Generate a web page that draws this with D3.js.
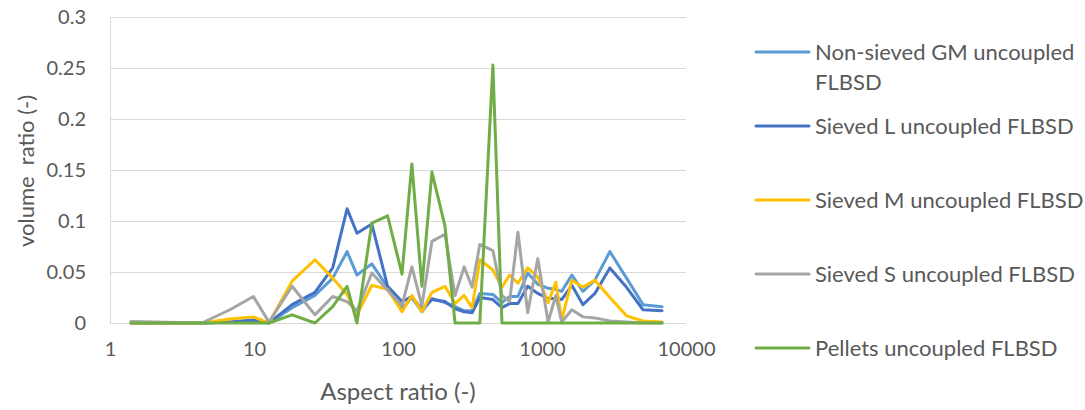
<!DOCTYPE html>
<html><head><meta charset="utf-8">
<script src="https://cdn.jsdelivr.net/npm/d3@7"></script>
<style>body{margin:0;background:#fff}svg{display:block}text{font-family:Lato,"Open Sans",sans-serif;fill:#595959}</style>
</head><body><svg id="c" width="1085" height="410"></svg>
<script>
const aspectRatio = [1.4, 4.35, 6.8, 9.9, 12.7, 18.4, 26.5, 35.2, 44.3, 51.9, 65.8, 84.7, 106.6, 124.8, 146.6, 172, 212, 249, 288, 327, 370, 456, 527, 596, 680, 796, 935, 1102, 1247, 1370, 1612, 1925, 2330, 2960, 3865, 5030, 6820];
const nonSievedGM = [0,0,0.001,0.002,0,0.015,0.027,0.044,0.07,0.047,0.058,0.035,0.014,0.025,0.011,0.024,0.02,0.016,0.012,0.012,0.029,0.028,0.02,0.026,0.026,0.049,0.038,0.034,0.033,0.031,0.047,0.031,0.042,0.07,0.044,0.018,0.016];
const sievedL = [0,0,0.001,0.003,0,0.018,0.03,0.054,0.112,0.088,0.097,0.036,0.021,0.026,0.013,0.023,0.021,0.014,0.011,0.01,0.025,0.023,0.015,0.019,0.019,0.036,0.029,0.024,0.024,0.023,0.037,0.018,0.029,0.054,0.035,0.013,0.012];
const sievedM = [0,0,0.004,0.006,0,0.041,0.062,0.044,0.028,0.008,0.037,0.033,0.011,0.027,0.011,0.03,0.036,0.019,0.027,0.015,0.062,0.052,0.035,0.047,0.039,0.054,0.045,0.02,0.04,0.003,0.042,0.035,0.042,0.025,0.007,0.002,0.001];
const sievedS = [0.0015,0,0.013,0.026,0.001,0.036,0.008,0.026,0.021,0.012,0.049,0.032,0.017,0.055,0.017,0.08,0.087,0.027,0.055,0.035,0.077,0.071,0.027,0.021,0.089,0.01,0.063,0.001,0.027,0.001,0.013,0.006,0.005,0.002,0.001,0,0];
const pellets = [0,0,0,0,0,0.008,0,0.016,0.036,0,0.098,0.105,0.048,0.156,0.036,0.148,0.095,0,0,0,0,0.253,0,0,0,0,0,0,0,0,0,0,0,0,0,0,0];
const seriesNames = ["Non-sieved GM uncoupled FLBSD","Sieved L uncoupled FLBSD","Sieved M uncoupled FLBSD","Sieved S uncoupled FLBSD","Pellets uncoupled FLBSD"];
const seriesColors = ["#5B9BD5","#4472C4","#FFC000","#A5A5A5","#70AD47"];
const yTicks = [0,0.05,0.1,0.15,0.2,0.25,0.3];
const xTicks = [1,10,100,1000,10000];

const series = [nonSievedGM, sievedL, sievedM, sievedS, pellets];
const svg = d3.select("#c");
const x = d3.scaleLog().domain([1,10000]).range([110,686]);
const y = d3.scaleLinear().domain([0,0.3]).range([323,17]);

// gridlines
svg.append("g").selectAll("line").data(yTicks).join("line")
  .attr("x1",110).attr("x2",686).attr("y1",d=>y(d)+0.5).attr("y2",d=>y(d)+0.5)
  .attr("stroke","#d9d9d9").attr("stroke-width",1);
svg.append("line").attr("x1",110.5).attr("x2",110.5).attr("y1",y(0.3)).attr("y2",y(0)+1).attr("stroke","#d9d9d9");

// y axis labels
const yAxis = d3.axisLeft(y).tickValues(yTicks).tickSize(0).tickPadding(24).tickFormat(d=>String(d));
const gy = svg.append("g").attr("transform","translate(110,0)").call(yAxis);
gy.select(".domain").remove();
gy.selectAll("text").style("font-size","20px").attr("fill","#595959").attr("font-family",null);

const xAxis = d3.axisBottom(x).tickValues(xTicks).tickSize(0).tickPadding(19).tickFormat(d=>String(d));
const gx = svg.append("g").attr("transform","translate(0,323)").call(xAxis);
gx.select(".domain").remove();
gx.selectAll("text").style("font-size","20px").attr("fill","#595959").attr("font-family",null);

// axis titles
svg.append("text").attr("x",398).attr("y",400).attr("text-anchor","middle").style("font-size","24px").text("Aspect ratio (-)");
svg.append("text").attr("transform","translate(34,171) rotate(-90)").attr("text-anchor","middle").style("font-size","22px").style("white-space","pre").attr("xml:space","preserve").text("volume  ratio (-)");

// lines
const line = d3.line().x((d,i)=>x(aspectRatio[i])).y(d=>y(d));
svg.append("g").selectAll("path").data(series).join("path")
  .attr("d",d=>line(d)).attr("fill","none").attr("stroke",(d,i)=>seriesColors[i])
  .attr("stroke-width",3).attr("stroke-linejoin","round").attr("stroke-linecap","round");

// legend
const legY = [52,126,200,274,348];
const lg = svg.append("g");
seriesNames.forEach((name,i)=>{
  lg.append("line").attr("x1",756).attr("x2",809).attr("y1",legY[i]).attr("y2",legY[i])
    .attr("stroke",seriesColors[i]).attr("stroke-width",3).attr("stroke-linecap","round");
  if(i===0){
    const t = lg.append("text").attr("x",815).attr("y",legY[i]+8).style("font-size","22px");
    t.append("tspan").attr("x",815).text("Non-sieved GM uncoupled");
    t.append("tspan").attr("x",815).attr("dy",30).text("FLBSD");
  } else {
    lg.append("text").attr("x",815).attr("y",legY[i]+8).style("font-size","22px").text(name);
  }
});
</script></body></html>
